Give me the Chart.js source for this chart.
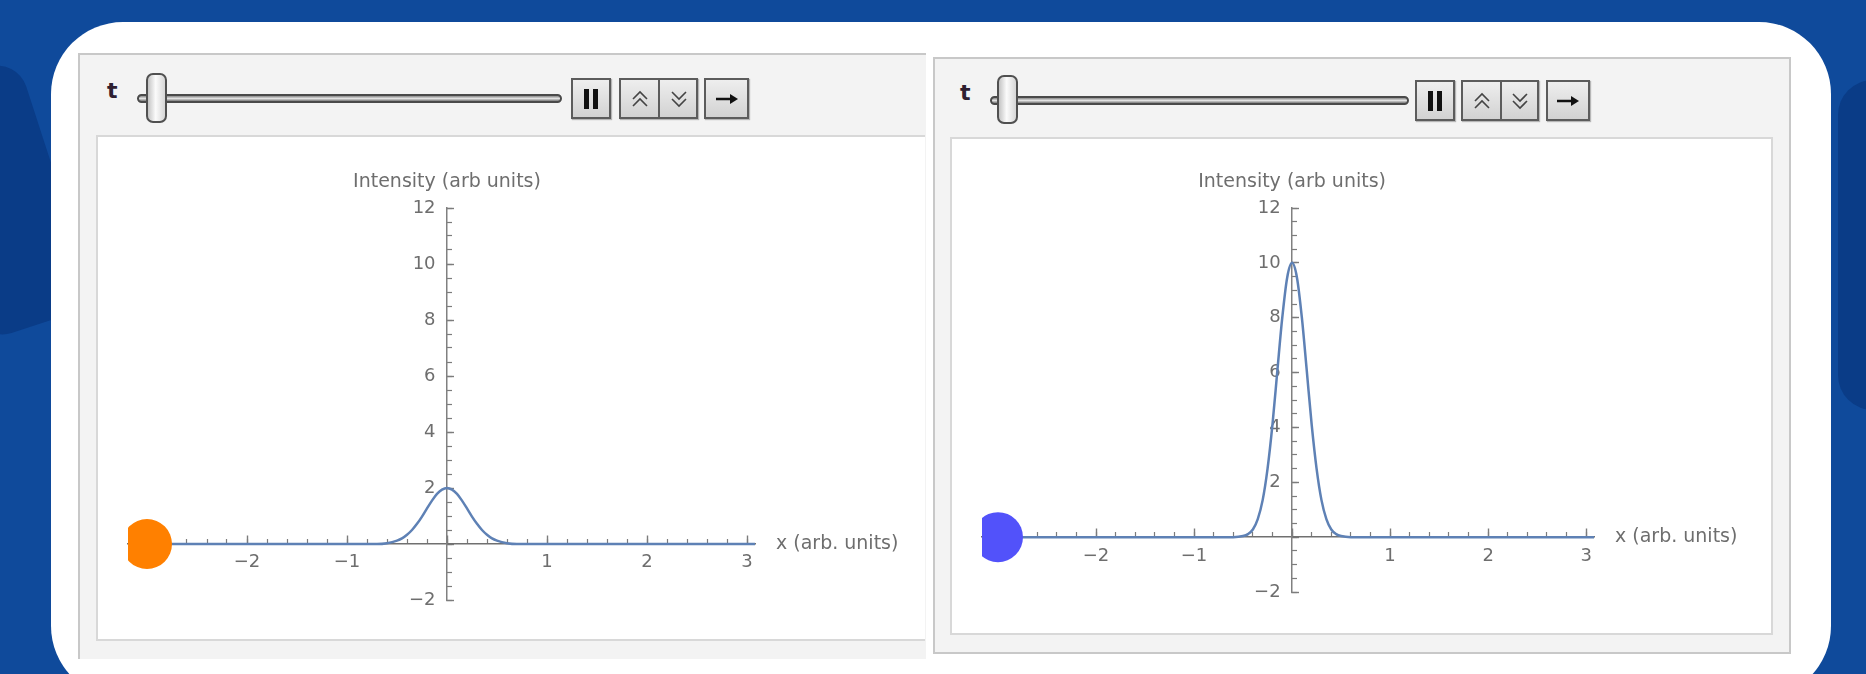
<!DOCTYPE html>
<html>
<head>
<meta charset="utf-8">
<script src="https://cdn.jsdelivr.net/npm/chart.js@4.4.1/dist/chart.umd.min.js"></script>
<style>
  html, body { margin: 0; padding: 0; }
  body { width: 1866px; height: 674px; overflow: hidden; position: relative; background: #0f4a9b; font-family: "DejaVu Sans", sans-serif; }
  .blob { position: absolute; background: #0a3c87; }
  .card { position: absolute; left: 51px; top: 22px; width: 1780px; height: 676px; background: #fff; border-radius: 72px; }
  .panel { position: absolute; background: #f3f3f3; box-sizing: border-box; border: 2px solid #c8c8c8; }
  .plotbox { position: absolute; background: #fff; box-sizing: border-box; border: 2px solid #d8d8d8; }
  .tlabel { position: absolute; font-size: 22px; font-weight: bold; color: #2e2030; line-height: 22px; }
  .track { position: absolute; height: 9px; box-sizing: border-box; border: 2px solid #4a4a4a; border-radius: 5px; background: linear-gradient(#8a8a8a, #e2e2e2 50%, #7a7a7a); }
  .thumb { position: absolute; box-sizing: border-box; border: 2px solid #505050; border-radius: 7px; background: linear-gradient(to right, #c4c4c4, #fbfbfb 45%, #d6d6d6); }
  .btn { position: absolute; height: 41px; box-sizing: border-box; border: 2px solid #5c5c5c; background: linear-gradient(#eeeeee, #d2d2d2); box-shadow: 1px 1px 1px rgba(0,0,0,0.25); display: flex; align-items: center; justify-content: center; }
  .sep { position: absolute; top: 0; bottom: 0; width: 2px; background: #5c5c5c; }
  canvas { position: absolute; }
</style>
</head>
<body>
<div class="blob" style="left:-60px; top:70px; width:120px; height:260px; border-radius:30px; transform:rotate(-18deg);"></div>
<div class="blob" style="left:1838px; top:80px; width:70px; height:330px; border-radius:35px;"></div>
<div class="card"></div>

<!-- left manipulate panel (cropped on the right) -->
<div class="panel" style="left:78px; top:53px; width:848px; height:606px; border-right:none; border-bottom:none;"></div>
<div class="plotbox" style="left:96px; top:135px; width:829px; height:506px; border-right:none;"></div>
<div class="tlabel" style="left:107px; top:80px;">t</div>
<div class="track" style="left:137px; top:94px; width:425px;"></div>
<div class="thumb" style="left:146px; top:73px; width:21px; height:50px;"></div>
<div class="btn" style="left:571px; top:78px; width:40px;"><svg width="20" height="24"><rect x="3" y="2" width="5" height="20" fill="#111"/><rect x="12" y="2" width="5" height="20" fill="#111"/></svg></div>
<div class="btn" style="left:619px; top:78px; width:79px;">
  <svg style="position:absolute;left:9px;top:8px" width="20" height="22"><polyline points="3,11 10,4 17,11" fill="none" stroke="#444" stroke-width="1.6"/><polyline points="3,18 10,11 17,18" fill="none" stroke="#444" stroke-width="1.6"/></svg>
  <div class="sep" style="left:37px;"></div>
  <svg style="position:absolute;left:48px;top:8px" width="20" height="22"><polyline points="3,4 10,11 17,4" fill="none" stroke="#444" stroke-width="1.6"/><polyline points="3,11 10,18 17,11" fill="none" stroke="#444" stroke-width="1.6"/></svg>
</div>
<div class="btn" style="left:704px; top:78px; width:45px;"><svg width="26" height="14"><line x1="2" y1="7" x2="20" y2="7" stroke="#111" stroke-width="2.5"/><polygon points="16,2 24,7 16,12" fill="#111"/></svg></div>

<!-- right manipulate panel -->
<div class="panel" style="left:933px; top:57px; width:858px; height:597px;"></div>
<div class="plotbox" style="left:950px; top:137px; width:823px; height:498px;"></div>
<div class="tlabel" style="left:960px; top:82px;">t</div>
<div class="track" style="left:990px; top:96px; width:419px;"></div>
<div class="thumb" style="left:997px; top:75px; width:21px; height:49px;"></div>
<div class="btn" style="left:1415px; top:80px; width:40px;"><svg width="20" height="24"><rect x="3" y="2" width="5" height="20" fill="#111"/><rect x="12" y="2" width="5" height="20" fill="#111"/></svg></div>
<div class="btn" style="left:1461px; top:80px; width:78px;">
  <svg style="position:absolute;left:9px;top:8px" width="20" height="22"><polyline points="3,11 10,4 17,11" fill="none" stroke="#444" stroke-width="1.6"/><polyline points="3,18 10,11 17,18" fill="none" stroke="#444" stroke-width="1.6"/></svg>
  <div class="sep" style="left:37px;"></div>
  <svg style="position:absolute;left:47px;top:8px" width="20" height="22"><polyline points="3,4 10,11 17,4" fill="none" stroke="#444" stroke-width="1.6"/><polyline points="3,11 10,18 17,11" fill="none" stroke="#444" stroke-width="1.6"/></svg>
</div>
<div class="btn" style="left:1546px; top:80px; width:44px;"><svg width="26" height="14"><line x1="2" y1="7" x2="20" y2="7" stroke="#111" stroke-width="2.5"/><polygon points="16,2 24,7 16,12" fill="#111"/></svg></div>

<canvas id="leftChart" width="829" height="506" style="left:96px; top:135px;"></canvas>
<canvas id="rightChart" width="822" height="497" style="left:950px; top:137px;"></canvas>

<script>
// positions along x (arb. units) where the curves were read
var xPos = [-3.2, -0.7, -0.6, -0.5, -0.45, -0.4, -0.35, -0.3, -0.25, -0.2, -0.15, -0.1, -0.05, 0,
            0.05, 0.1, 0.15, 0.2, 0.25, 0.3, 0.35, 0.4, 0.45, 0.5, 0.6, 0.7, 3.1];

// intensity, left frame (wide low pulse)
var intensityLeft = [0, 0, 0.03, 0.12, 0.2, 0.33, 0.5, 0.72, 0.98, 1.27, 1.55, 1.79, 1.94, 2.0,
                     1.94, 1.79, 1.55, 1.27, 0.98, 0.72, 0.5, 0.33, 0.2, 0.12, 0.03, 0, 0];

// intensity, right frame (narrow tall pulse)
var intensityRight = [0, 0, 0, 0.04, 0.11, 0.28, 0.66, 1.35, 2.5, 4.1, 6.07, 8.0, 9.46, 10.0,
                      9.46, 8.0, 6.07, 4.1, 2.5, 1.35, 0.66, 0.28, 0.11, 0.04, 0, 0, 0];

// source dot on the left edge
var sourceX = [-3];
var sourceY = [0];

var yMajorTicks = { min: -2, max: 12, step: 2 };
var yMinorStep = 0.5;
var xMajorStep = 1;
var xMinorStep = 0.2;
var hiddenXLabels = [0, -3];

var axisTitleY = "Intensity (arb units)";
var axisTitleX = "x (arb. units)";

var textColor = "#6e6e6e";
var tickColor = "#7c7c7c";
var curveColor = "#5e81b5";

function fmt(v) {
  return v < 0 ? "\u2212" + Math.abs(v) : String(v);
}

function toPoints(xs, ys) {
  return xs.map(function (x, i) { return { x: x, y: ys[i] }; });
}

// keep the marks inside the plot range (the dot is cut by the left edge)
var clipToArea = {
  id: "clipToArea",
  beforeDatasetsDraw: function (chart) {
    var a = chart.chartArea, ctx = chart.ctx;
    ctx.save();
    ctx.beginPath();
    ctx.rect(a.left, a.top - 2, a.right - a.left, a.bottom - a.top + 4);
    ctx.clip();
  },
  afterDatasetsDraw: function (chart) {
    chart.ctx.restore();
  }
};

var axisTitles = {
  id: "axisTitles",
  afterDraw: function (chart) {
    var ctx = chart.ctx;
    var xs = chart.scales.x, ys = chart.scales.y;
    ctx.save();
    ctx.fillStyle = textColor;
    ctx.font = "19px 'DejaVu Sans'";
    ctx.textAlign = "center";
    ctx.textBaseline = "middle";
    ctx.fillText(axisTitleY, xs.getPixelForValue(0), chart.chartArea.top - 26);
    ctx.textAlign = "left";
    ctx.fillText(axisTitleX, chart.chartArea.right + 21, ys.getPixelForValue(0));
    ctx.restore();
  }
};

function makeChart(id, curve, dotColor, xMin, xMax, pad) {
  var ctx = document.getElementById(id).getContext("2d");
  return new Chart(ctx, {
    type: "scatter",
    data: {
      datasets: [{
        data: toPoints(sourceX, sourceY),
        pointRadius: 25,
        pointHoverRadius: 25,
        backgroundColor: dotColor,
        borderWidth: 0,
        xAxisID: "x",
        yAxisID: "y"
      }, {
        data: toPoints(xPos, curve),
        showLine: true,
        pointRadius: 0,
        borderColor: curveColor,
        borderWidth: 2.5,
        cubicInterpolationMode: "monotone",
        xAxisID: "x",
        yAxisID: "y"
      }]
    },
    options: {
      responsive: false,
      animation: false,
      devicePixelRatio: 1,
      layout: { padding: pad },
      plugins: { legend: { display: false }, tooltip: { enabled: false } },
      events: [],
      scales: {
        x: {
          type: "linear", axis: "x", position: { y: 0 }, min: xMin, max: xMax,
          grid: { drawOnChartArea: false, tickLength: -9, tickColor: tickColor, tickWidth: 1.4 },
          border: { display: true, color: "#707070", width: 1.5 },
          ticks: {
            stepSize: xMajorStep, includeBounds: false, autoSkip: false, maxRotation: 0,
            color: textColor, font: { family: "DejaVu Sans", size: 18 }, padding: 17,
            callback: function (v) { return hiddenXLabels.indexOf(v) >= 0 ? "" : fmt(v); }
          }
        },
        y: {
          type: "linear", axis: "y", position: { x: 0 }, min: yMajorTicks.min, max: yMajorTicks.max,
          grid: { drawOnChartArea: false, tickLength: -8, tickColor: tickColor, tickWidth: 1.4 },
          border: { display: true, color: "#808080", width: 1.5 },
          ticks: {
            stepSize: yMajorTicks.step, includeBounds: false, autoSkip: false,
            color: textColor, font: { family: "DejaVu Sans", size: 18 },
            callback: function (v) { return v === 0 ? "" : fmt(v) + "  "; }
          }
        },
        xm: {
          type: "linear", axis: "x", position: { y: 0 }, min: xMin, max: xMax,
          grid: { drawOnChartArea: false, tickLength: -5, tickColor: tickColor, tickWidth: 1.2 },
          border: { display: false },
          ticks: { stepSize: xMinorStep, includeBounds: false, autoSkip: false, display: false }
        },
        ym: {
          type: "linear", axis: "y", position: { x: 0 }, min: yMajorTicks.min, max: yMajorTicks.max,
          grid: { drawOnChartArea: false, tickLength: -5, tickColor: tickColor, tickWidth: 1.2 },
          border: { display: false },
          ticks: { stepSize: yMinorStep, includeBounds: false, autoSkip: false, display: false }
        }
      }
    },
    plugins: [clipToArea, axisTitles]
  });
}

makeChart("leftChart", intensityLeft, "#ff8000", -3.19, 3.08, { left: 32, top: 73, right: 170, bottom: 41 });
makeChart("rightChart", intensityRight, "#5252fa", -3.163, 3.08, { left: 32, top: 71, right: 178, bottom: 42 });
</script>
</body>
</html>
